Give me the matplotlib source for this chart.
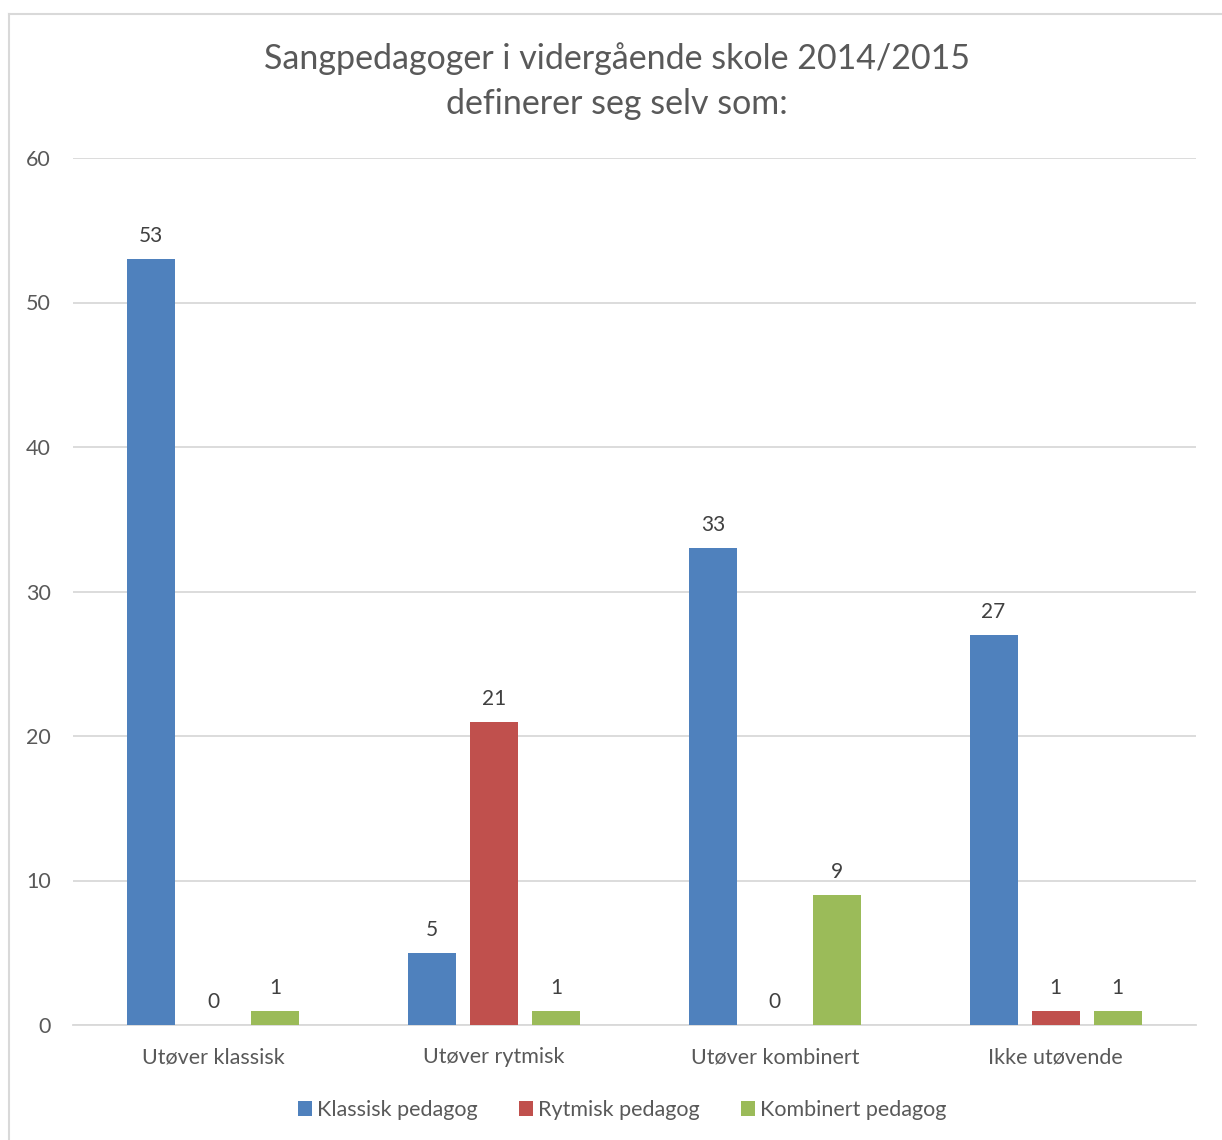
import matplotlib.pyplot as plt
import matplotlib.lines as mlines
import numpy as np

plt.rcParams['font.family'] = ['Lato', 'DejaVu Sans']

categories = ['Utøver klassisk', 'Utøver rytmisk', 'Utøver kombinert', 'Ikke utøvende']
series_names = ['Klassisk pedagog', 'Rytmisk pedagog', 'Kombinert pedagog']
klassisk = [53, 5, 33, 27]
rytmisk = [0, 21, 0, 1]
kombinert = [1, 1, 9, 1]
colors = ['#4F81BD', '#C0504D', '#9BBB59']
text_col = '#595959'

fig = plt.figure(figsize=(12.22, 11.40), dpi=100)
ax = fig.add_axes([73 / 1222, 1 - 1025 / 1140, 1123 / 1222, 867 / 1140])

x = np.arange(len(categories))
width = 0.171
step = 0.221
for k, (vals, name) in enumerate(zip([klassisk, rytmisk, kombinert], series_names)):
    bars = ax.bar(x + (k - 1) * step, vals, width, color=colors[k], label=name, zorder=3)
    for b, v in zip(bars, vals):
        ax.text(b.get_x() + b.get_width() / 2, v + 0.9, str(v), ha='center', va='bottom',
                fontsize=15, color='#404040')

ax.set_xlim(-0.5, 3.5)
ax.set_ylim(0, 60)
ax.set_yticks(range(0, 61, 10))
ax.yaxis.grid(True, color='#D9D9D9', linewidth=1.3, zorder=0)
ax.set_xticks(x)
ax.set_xticklabels(categories)
ax.tick_params(length=0, labelsize=15.5, labelcolor=text_col)
ax.tick_params(axis='y', pad=16)
ax.tick_params(axis='x', pad=16)
for s in ['top', 'right', 'left']:
    ax.spines[s].set_visible(False)
ax.spines['bottom'].set_color('#D9D9D9')
ax.spines['bottom'].set_linewidth(1.3)

fig.text(617 / 1222, 1 - 81 / 1140, 'Sangpedagoger i vidergående skole 2014/2015\ndefinerer seg selv som:',
         ha='center', va='center', fontsize=24.5, color=text_col, linespacing=1.5)

fig.legend(loc='center', bbox_to_anchor=(622 / 1222, 1 - 1110 / 1140), ncol=3, frameon=False,
           fontsize=15.5, labelcolor=text_col, handlelength=0.65, handleheight=0.65,
           handletextpad=0.25, columnspacing=1.9)

# chart area border
fig.add_artist(mlines.Line2D([9 / 1222, 1], [1 - 14 / 1140, 1 - 14 / 1140], color='#D9D9D9', linewidth=1.5))
fig.add_artist(mlines.Line2D([9 / 1222, 9 / 1222], [0, 1 - 14 / 1140], color='#D9D9D9', linewidth=1.5))

fig.savefig('out.png', dpi=100)
